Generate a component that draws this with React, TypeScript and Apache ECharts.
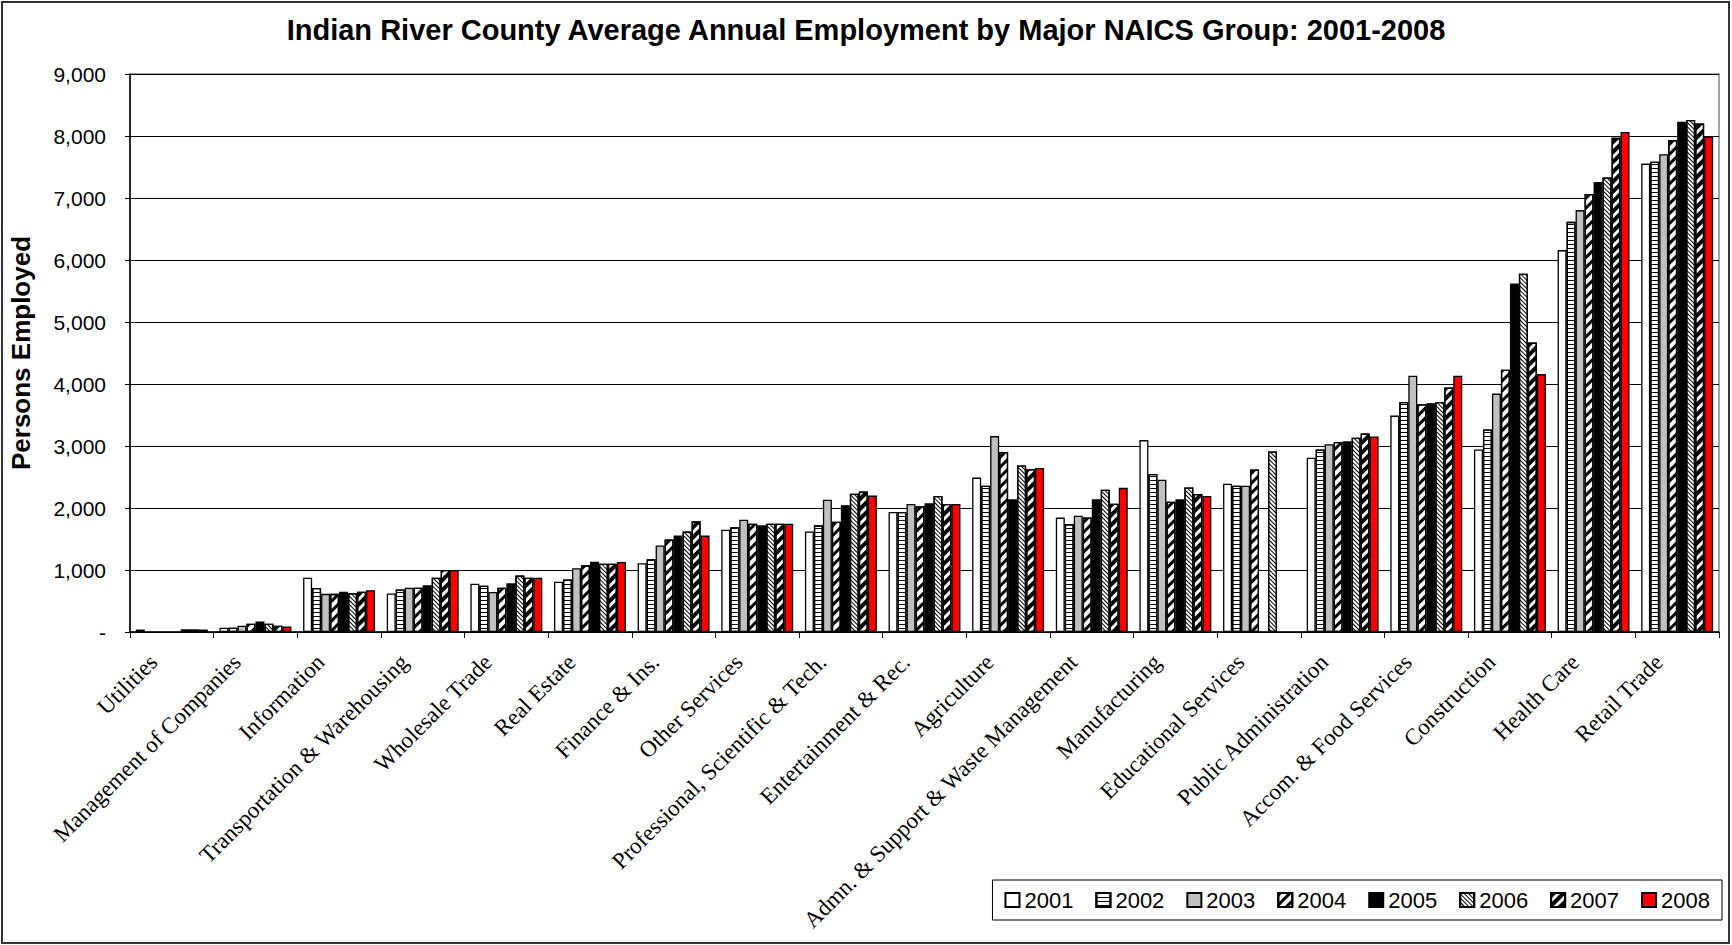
import React, { useEffect, useRef } from "react";
import * as echarts from "echarts";

const categories = [
  "Utilities",
  "Management of Companies",
  "Information",
  "Transportation & Warehousing",
  "Wholesale Trade",
  "Real Estate",
  "Finance & Ins.",
  "Other Services",
  "Professional, Scientific & Tech.",
  "Entertainment & Rec.",
  "Agriculture",
  "Admn. & Support & Waste Management",
  "Manufacturing",
  "Educational Services",
  "Public Administration",
  "Accom. & Food Services",
  "Construction",
  "Health Care",
  "Retail Trade",
];

const years = ["2001", "2002", "2003", "2004", "2005", "2006", "2007", "2008"];

const y2001 = [40, 70, 875, 620, 780, 810, 1110, 1650, 1620, 1935, 2490, 1845, 3095, 2390, 2810, 3490, 2945, 6160, 7555];
const y2002 = [null, 70, 710, 685, 745, 845, 1175, 1690, 1720, 1935, 2360, 1740, 2550, 2360, 2945, 3710, 3265, 6615, 7585];
const y2003 = [null, 100, 615, 715, 645, 1030, 1395, 1810, 2135, 2065, 3160, 1875, 2455, 2360, 3030, 4135, 3845, 6805, 7705];
const y2004 = [null, 135, 615, 715, 715, 1075, 1490, 1745, 1780, 2030, 2905, 1845, 2100, 2620, 3065, 3675, 4230, 7065, 7935];
const y2005 = [null, 170, 650, 755, 785, 1135, 1555, 1720, 2045, 2075, 2140, 2140, 2140, null, 3075, 3690, 5620, 7260, 8230];
const y2006 = [40, 135, 625, 875, 910, 1100, 1620, 1745, 2230, 2195, 2685, 2295, 2330, 2910, 3135, 3710, 5780, 7330, 8260];
const y2007 = [40, 100, 650, 1000, 875, 1100, 1785, 1745, 2265, 2065, 2625, 2070, 2225, null, 3200, 3945, 4670, 7970, 8200];
const y2008 = [40, 90, 675, 1000, 875, 1130, 1555, 1745, 2200, 2065, 2645, 2325, 2195, null, 3155, 4135, 4160, 8065, 7990];

const yearData = [y2001, y2002, y2003, y2004, y2005, y2006, y2007, y2008];

const fills = ["#ffffff", "#ffffff", "#c0c0c0", "#ffffff", "#000000", "#ffffff", "#ffffff", "#ff0000"];

const decals: any[] = [
  null,
  { symbol: "rect", symbolSize: 1, color: "#000", dashArrayX: [1, 0], dashArrayY: [1, 3], rotation: 0 },
  null,
  { symbol: "rect", symbolSize: 1, color: "#000", dashArrayX: [1, 0], dashArrayY: [3, 4], rotation: -Math.PI / 4 },
  null,
  { symbol: "rect", symbolSize: 1, color: "#000", dashArrayX: [1, 0], dashArrayY: [1, 2], rotation: Math.PI / 4 },
  { symbol: "rect", symbolSize: 1, color: "#000", dashArrayX: [1, 0], dashArrayY: [4, 3], rotation: -Math.PI / 4 },
  null,
];

const SANS = "'Liberation Sans', Arial, sans-serif";
const SERIF = "'Liberation Serif', 'Times New Roman', serif";

export default function App() {
  const ref = useRef<HTMLDivElement>(null);
  useEffect(() => {
    document.body.style.margin = "0";
    if (!ref.current) return;
    const chart = echarts.init(ref.current, null, { renderer: "svg" });
    const series = years.map((yr, i) => {
      const style: any = {
        color: fills[i],
        borderColor: "#000",
        borderWidth: 1.3,
      };
      if (decals[i]) style.decal = decals[i];
      return {
        name: yr,
        type: "bar",
        data: yearData[i],
        barGap: "0%",
        barCategoryGap: "14%",
        itemStyle: style,
        emphasis: { disabled: true },
      };
    });
    chart.setOption({
      animation: false,
      backgroundColor: "#ffffff",
      title: {
        text: "Indian River County Average Annual Employment by Major NAICS Group: 2001-2008",
        left: "center",
        top: 10,
        textStyle: { fontFamily: SANS, fontSize: 29, fontWeight: "bold", color: "#000" },
      },
      legend: {
        right: 10,
        top: 880,
        icon: "rect",
        itemWidth: 14,
        itemHeight: 14,
        itemGap: 22,
        padding: [9, 12],
        borderColor: "#000",
        borderWidth: 1,
        backgroundColor: "#fff",
        textStyle: { fontFamily: SANS, fontSize: 22, color: "#000" },
        data: years,
      },
      grid: {
        left: 125,
        right: 13,
        top: 74,
        bottom: 313,
        show: true,
        borderColor: "#888",
        borderWidth: 1.5,
        backgroundColor: "transparent",
      },
      xAxis: {
        type: "category",
        data: categories,
        axisLine: { lineStyle: { color: "#000", width: 1.5 } },
        axisTick: { show: true, length: 6, alignWithLabel: false, lineStyle: { color: "#000" } },
        axisLabel: {
          interval: 0,
          rotate: 45,
          margin: 8,
          padding: [0, 26, 0, 0],
          fontFamily: SERIF,
          fontSize: 23,
          color: "#000",
        },
      },
      yAxis: {
        type: "value",
        min: 0,
        max: 9000,
        interval: 1000,
        name: "Persons Employed",
        nameLocation: "middle",
        nameRotate: 90,
        nameGap: 96,
        nameTextStyle: { fontFamily: SANS, fontSize: 26, fontWeight: "bold", color: "#000" },
        axisLine: { show: true, lineStyle: { color: "#000", width: 1.5 } },
        axisTick: { show: true, length: 5, inside: false, lineStyle: { color: "#000" } },
        splitLine: { show: true, lineStyle: { color: "#000", width: 1 } },
        axisLabel: {
          margin: 24,
          fontFamily: SANS,
          fontSize: 21,
          color: "#000",
          formatter: (v: number) => (v === 0 ? "-" : v.toLocaleString("en-US")),
        },
      },
      series,
      graphic: [
        {
          type: "rect",
          shape: { x: 2, y: 2, width: 1727, height: 941 },
          style: { fill: "none", stroke: "#333", lineWidth: 2 },
          silent: true,
        },
      ],
    });
    return () => chart.dispose();
  }, []);
  return <div ref={ref} style={{ width: 1732, height: 945 }} />;
}
